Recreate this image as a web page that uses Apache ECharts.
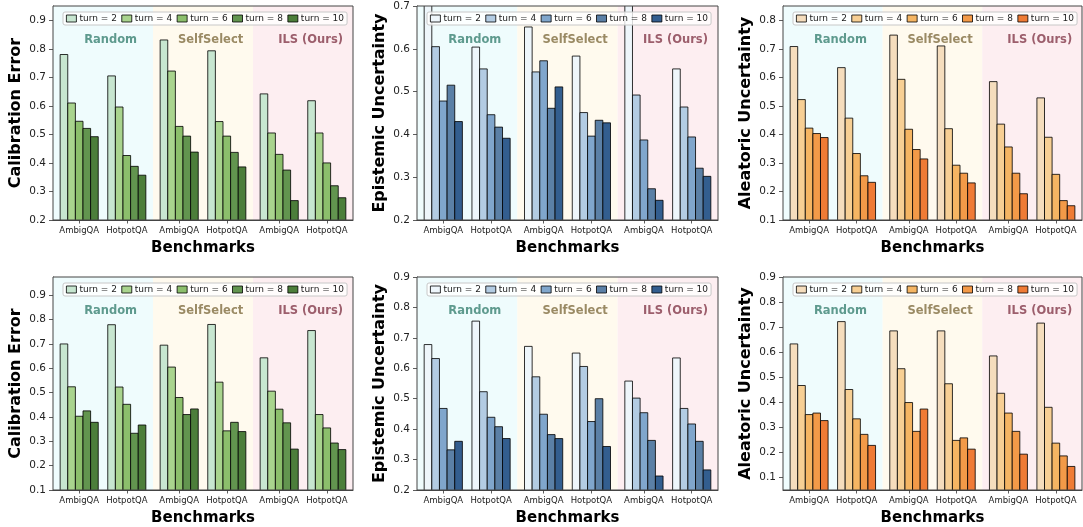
<!DOCTYPE html>
<html><head><meta charset="utf-8">
<script src="https://cdn.jsdelivr.net/npm/echarts@6/dist/echarts.min.js"></script>
<style>html,body{margin:0;padding:0;background:#fff}#c{width:1083px;height:527px}</style>
</head><body><div id="c"></div>
<script>
// ---------- data ----------
const categories = ['AmbigQA', 'HotpotQA', 'AmbigQA', 'HotpotQA', 'AmbigQA', 'HotpotQA'];
const methods = ['Random', 'SelfSelect', 'ILS (Ours)'];
const turns = ['turn = 2', 'turn = 4', 'turn = 6', 'turn = 8', 'turn = 10'];

// rows = turns, columns = categories
const calibTop = [
  [0.780, 0.705, 0.831, 0.793, 0.642, 0.618],
  [0.610, 0.596, 0.722, 0.545, 0.505, 0.505],
  [0.546, 0.426, 0.528, 0.494, 0.430, 0.400],
  [0.521, 0.388, 0.494, 0.437, 0.375, 0.320],
  [0.492, 0.357, 0.438, 0.386, 0.268, 0.278]
];
const epiTop = [
  [0.730, 0.604, 0.651, 0.583, 0.730, 0.553],
  [0.605, 0.553, 0.546, 0.451, 0.492, 0.464],
  [0.478, 0.446, 0.572, 0.396, 0.387, 0.394],
  [0.515, 0.417, 0.461, 0.433, 0.273, 0.321],
  [0.430, 0.391, 0.511, 0.427, 0.246, 0.302]
];
const aleTop = [
  [0.708, 0.634, 0.748, 0.710, 0.585, 0.528],
  [0.522, 0.457, 0.593, 0.420, 0.436, 0.390],
  [0.422, 0.333, 0.418, 0.292, 0.356, 0.260],
  [0.403, 0.255, 0.347, 0.264, 0.264, 0.168],
  [0.389, 0.232, 0.314, 0.230, 0.192, 0.150]
];
const calibBottom = [
  [0.700, 0.779, 0.695, 0.780, 0.643, 0.755],
  [0.524, 0.523, 0.605, 0.543, 0.506, 0.410],
  [0.403, 0.452, 0.480, 0.343, 0.432, 0.355],
  [0.425, 0.333, 0.410, 0.378, 0.376, 0.293],
  [0.378, 0.367, 0.433, 0.340, 0.268, 0.266]
];
const epiBottom = [
  [0.678, 0.755, 0.672, 0.650, 0.558, 0.634],
  [0.632, 0.523, 0.572, 0.606, 0.502, 0.468],
  [0.468, 0.439, 0.449, 0.425, 0.454, 0.417],
  [0.332, 0.408, 0.382, 0.500, 0.363, 0.360],
  [0.360, 0.369, 0.369, 0.343, 0.246, 0.266]
];
const aleBottom = [
  [0.633, 0.722, 0.685, 0.685, 0.585, 0.716],
  [0.467, 0.451, 0.534, 0.474, 0.436, 0.380],
  [0.351, 0.334, 0.399, 0.248, 0.357, 0.237],
  [0.357, 0.272, 0.284, 0.258, 0.284, 0.186],
  [0.327, 0.228, 0.373, 0.213, 0.193, 0.144]
];

const ticksCalibTop = [0.2, 0.3, 0.4, 0.5, 0.6, 0.7, 0.8, 0.9];
const ticksEpiTop = [0.2, 0.3, 0.4, 0.5, 0.6, 0.7];
const ticksAleTop = [0.1, 0.2, 0.3, 0.4, 0.5, 0.6, 0.7, 0.8];
const ticksCalibBottom = [0.1, 0.2, 0.3, 0.4, 0.5, 0.6, 0.7, 0.8, 0.9];
const ticksEpiBottom = [0.2, 0.3, 0.4, 0.5, 0.6, 0.7, 0.8, 0.9];
const ticksAleBottom = [0.1, 0.2, 0.3, 0.4, 0.5, 0.6, 0.7, 0.8, 0.9];

// ---------- layout / style ----------
const groupPos = [0, 1, 2.1, 3.1, 4.2, 5.2];
const regions = [[-0.55, 1.55, 0], [1.55, 3.65, 1], [3.65, 5.75, 2]];
const X_MIN = -0.55, X_MAX = 5.75, BW = 0.16;
const FONT = 'DejaVu Sans';

const greens = ['#c7e6d0', '#a9d48e', '#8cbf6c', '#62954f', '#4c7e3a'];
const blues = ['#eef6fb', '#b3cce3', '#80a6cc', '#5b80a6', '#335e8f'];
const oranges = ['#f5ddbd', '#f7cf94', '#f5b563', '#f39a48', '#ef7b35'];
const bgColors = ['#effcfd', '#fffaee', '#fdeef1'];
const methodColors = ['#5e9a8e', '#9a8a64', '#9c5e6c'];

const panels = [
  {data: calibTop, yName: 'Calibration Error', min: 0.2, max: 0.95, ticks: ticksCalibTop, pal: greens, left: 53, top: 6, width: 300},
  {data: epiTop, yName: 'Epistemic Uncertainty', min: 0.2, max: 0.7, ticks: ticksEpiTop, pal: blues, left: 417, top: 6, width: 301},
  {data: aleTop, yName: 'Aleatoric Uncertainty', min: 0.1, max: 0.85, ticks: ticksAleTop, pal: oranges, left: 783, top: 6, width: 299},
  {data: calibBottom, yName: 'Calibration Error', min: 0.1, max: 0.975, ticks: ticksCalibBottom, pal: greens, left: 53, top: 277, width: 300},
  {data: epiBottom, yName: 'Epistemic Uncertainty', min: 0.2, max: 0.9, ticks: ticksEpiBottom, pal: blues, left: 417, top: 277, width: 301},
  {data: aleBottom, yName: 'Aleatoric Uncertainty', min: 0.05, max: 0.9, ticks: ticksAleBottom, pal: oranges, left: 783, top: 277, width: 299}
];
const GRID_H = 214;

function catLabel(v) {
  const k = groupPos.findIndex(p => Math.abs(p - v) < 1e-6);
  return k >= 0 ? categories[k] : '';
}

const grid = [], xAxis = [], yAxis = [], legend = [], series = [];

panels.forEach((P, i) => {
  grid.push({left: P.left, top: P.top, width: P.width, height: GRID_H, show: false});
  xAxis.push({
    type: 'value', gridIndex: i, min: X_MIN, max: X_MAX,
    splitLine: {show: false},
    axisLine: {show: true, onZero: false, lineStyle: {color: '#444', width: 1}},
    axisTick: {show: true, customValues: groupPos, length: 3.5, lineStyle: {color: '#333', width: 0.8}},
    axisLabel: {show: true, customValues: groupPos, formatter: catLabel, fontSize: 8.5, margin: 6, color: '#222', fontFamily: FONT},
    name: 'Benchmarks', nameLocation: 'middle', nameGap: 21,
    nameTextStyle: {fontWeight: 'bold', fontSize: 15, color: '#000', fontFamily: FONT}
  });
  yAxis.push({
    type: 'value', gridIndex: i, min: P.min, max: P.max,
    splitLine: {show: false},
    axisLine: {show: true, onZero: false, lineStyle: {color: '#444', width: 1}},
    axisTick: {show: true, customValues: P.ticks, length: 4, lineStyle: {color: '#333', width: 0.8}},
    axisLabel: {show: true, customValues: P.ticks, formatter: v => v.toFixed(1), fontSize: 10.5, margin: 7, color: '#222', fontFamily: FONT},
    name: P.yName, nameLocation: 'middle', nameRotate: 90, nameGap: 29,
    nameTextStyle: {fontWeight: 'bold', fontSize: 16, color: '#000', fontFamily: FONT}
  });

  // background regions + method labels
  series.push({
    type: 'custom', xAxisIndex: i, yAxisIndex: i, silent: true, clip: true, z: 1,
    data: regions,
    renderItem: (params, api) => {
      const x0 = api.value(0), x1 = api.value(1), idx = api.value(2);
      const a = api.coord([x0, P.max]);
      const b = api.coord([x1, P.min]);
      const t = api.coord([(x0 + x1) / 2 + 0.16, P.max]);
      return {type: 'group', children: [
        {type: 'rect', shape: {x: a[0], y: a[1], width: b[0] - a[0], height: b[1] - a[1]}, style: {fill: bgColors[idx]}},
        {type: 'text', x: t[0], y: t[1] + 34, style: {text: methods[idx], fill: methodColors[idx], font: 'bold 11.5px "DejaVu Sans"', align: 'center', verticalAlign: 'middle'}}
      ]};
    }
  });

  const names = [];
  P.data.forEach((vals, j) => {
    const name = 'p' + i + '_t' + j;
    names.push(name);
    series.push({
      type: 'custom', name, xAxisIndex: i, yAxisIndex: i, clip: true, z: 3,
      itemStyle: {color: P.pal[j], borderColor: '#000', borderWidth: 0.8},
      data: groupPos.map((x, k) => [x, vals[k]]),
      encode: {x: 0, y: 1},
      renderItem: (params, api) => {
        const xc = api.value(0) + (j - 2) * BW;
        const p1 = api.coord([xc - BW / 2, api.value(1)]);
        const p2 = api.coord([xc + BW / 2, 0]);
        return {type: 'rect', shape: {x: p1[0], y: p1[1], width: p2[0] - p1[0], height: p2[1] - p1[1]},
          style: {fill: P.pal[j], stroke: 'rgba(0,0,0,0.9)', lineWidth: 0.9}};
      }
    });
  });

  // frame
  series.push({
    type: 'custom', xAxisIndex: i, yAxisIndex: i, silent: true, clip: false, z: 6,
    data: [[X_MIN, P.max]],
    renderItem: (params, api) => {
      const a = api.coord([X_MIN, P.max]);
      const b = api.coord([X_MAX, P.min]);
      return {type: 'rect', shape: {x: a[0], y: a[1], width: b[0] - a[0], height: b[1] - a[1]},
        style: {fill: 'none', stroke: '#444', lineWidth: 1}};
    }
  });

  legend.push({
    data: names, left: P.left + 10, top: P.top + 6, orient: 'horizontal',
    itemWidth: 10, itemHeight: 7, itemGap: 4.5, padding: [2, 3],
    backgroundColor: 'rgba(255,255,255,0.8)', borderColor: '#c8c8c8', borderWidth: 1, borderRadius: 2,
    icon: 'rect', selectedMode: false,
    itemStyle: {borderColor: '#000', borderWidth: 0.8},
    textStyle: {fontFamily: FONT, fontSize: 9, color: '#222', padding: [0, 0, 0, -2]},
    formatter: name => turns[+name.split('_t')[1]],
    z: 10
  });
});

const chart = echarts.init(document.getElementById('c'), null, {renderer: 'canvas'});
chart.setOption({animation: false, backgroundColor: '#fff', grid, xAxis, yAxis, legend, series});
</script></body></html>
